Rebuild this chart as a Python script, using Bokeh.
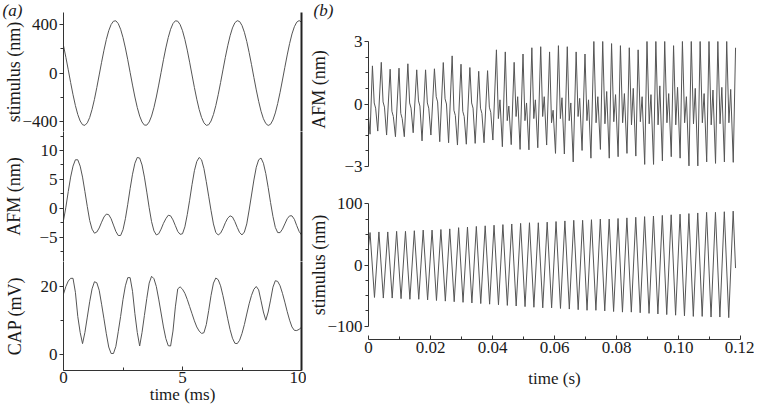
import numpy as np
from bokeh.plotting import figure
from bokeh.models import Range1d, LinearAxis, FixedTicker, Title
from bokeh.layouts import column, row
from bokeh.embed import file_html
from bokeh.resources import INLINE

# ---------------- panel (a): samples every 0.1 ms ----------------
t_a_step = 0.1
stim_a = [227, 130, 27, -79, -180, -270, -344, -398, -429, -434,
          -413, -369, -302, -218, -120, -16, 89, 189, 278, 351,
          402, 430, 433, 410, 363, 294, 208, 110, 5, -100,
          -199, -286, -357, -406, -432, -432, -406, -357, -286, -199,
          -100, 5, 110, 208, 294, 363, 410, 433, 430, 402,
          351, 278, 190, 90, -16, -120, -217, -302, -368, -413,
          -434, -429, -398, -344, -270, -180, -79, 26, 130, 226,
          309, 374, 417, 434, 427, 394, 338, 262, 170, 69,
          -37, -140, -235, -317, -379, -419, -435, -425, -389, -331,
          -253, -160, -58, 47, 150, 244, 324, 384, 422, 435,
          422]
afm_a = [-2.1, 0.2, 2.9, 5.4, 7.3, 8.4, 8.4, 7.3, 5.4, 2.9,
         0.3, -2.1, -3.6, -4.3, -4.1, -3.4, -2.4, -1.5, -1.0, -1.1,
         -1.8, -2.9, -4.0, -4.7, -4.7, -3.7, -1.8, 0.7, 3.4, 5.9,
         7.8, 8.8, 8.7, 7.5, 5.4, 2.8, 0.1, -2.3, -3.9, -4.6,
         -4.4, -3.6, -2.6, -1.8, -1.2, -1.3, -2.0, -3.0, -4.0, -4.5,
         -4.4, -3.2, -1.1, 1.4, 4.1, 6.5, 8.1, 8.8, 8.4, 6.9,
         4.6, 2.1, -0.4, -2.7, -4.2, -4.6, -4.3, -3.5, -2.5, -1.7,
         -1.3, -1.5, -2.3, -3.3, -4.2, -4.6, -4.1, -2.7, -0.3, 2.3,
         4.9, 7.1, 8.4, 8.7, 7.8, 6.0, 3.6, 1.0, -1.4, -3.3,
         -4.2, -4.2, -3.6, -2.7, -1.8, -1.3, -1.3, -1.9, -3.0, -4.0,
         -4.6]
cap_a = [17.8, 20.0, 21.6, 22.4, 22.4, 18.3, 11.2, 6.5, 3.2, 6.5,
         11.0, 15.5, 19.3, 21.4, 21.1, 18.9, 14.8, 10.5, 6.1, 2.2,
         0.3, 0.3, 2.4, 6.7, 11.2, 16.2, 20.2, 22.6, 22.6, 18.6,
         12.0, 6.5, 2.5, 6.5, 11.5, 16.5, 21.0, 23.0, 22.3, 20.0,
         16.3, 12.2, 8.1, 4.7, 2.6, 2.5, 6.9, 14.0, 19.3, 19.9,
         19.2, 18.0, 16.2, 14.1, 12.0, 9.9, 8.1, 6.9, 6.2, 6.4,
         8.8, 12.9, 17.4, 21.0, 22.5, 22.0, 20.2, 17.3, 14.0, 10.5,
         7.3, 4.8, 3.3, 3.2, 4.2, 6.2, 8.8, 11.9, 14.9, 17.4,
         19.2, 20.0, 19.0, 15.8, 12.5, 10.1, 12.5, 16.0, 19.8, 21.7,
         21.5, 20.2, 18.0, 15.4, 12.6, 10.1, 8.1, 7.1, 7.05, 7.4,
         8.0]

# ---------------- panel (b): one entry per cycle ----------------
period_b = 0.002857          # s
stim_b_first_peak = 0.0005   # s
stim_b_start = 31
stim_b_end = -5
stim_b_end_t = 0.1184
stim_b_peaks = [53, 54, 54, 55, 55, 56, 57, 57, 58, 59, 61, 62, 63, 64, 65, 66, 67, 68, 69, 69,
                70, 71, 72, 73, 73, 74, 75, 75, 76, 77, 78, 79, 80, 81, 82, 83, 84, 85, 86, 86,
                87, 88]
stim_b_troughs = [-53, -54, -54, -55, -56, -56, -57, -58, -59, -60, -61, -62, -63, -64, -65, -66,
                  -67, -68, -69, -70, -70, -71, -72, -73, -74, -74, -75, -76, -77, -77, -78, -79,
                  -80, -81, -82, -83, -84, -84, -85, -85, -86]

afm_b_first_peak = 0.00127
afm_b_start = [(0.0, -0.6), (0.0005, -1.45)]
afm_b_peak = [1.83, 2.0, 1.67, 1.72, 1.93, 1.64, 1.64, 1.69, 1.99, 2.31, 1.91, 1.75, 1.57, 1.6,
              2.6, 2.5, 2.0, 2.4, 2.7, 2.75, 2.5, 2.8, 2.75, 2.5, 2.4,
              3.0, 3.0, 2.9, 2.8, 2.7, 2.6, 3.0, 3.0, 3.0, 2.8, 3.0, 3.0, 3.0, 3.0, 3.0, 3.0, 2.7]
afm_b_dip = [0.05, 0.1, -0.35, -0.45, 0.05, 0.15, 0.05, 0.35, 0.25, -0.3, -0.35, 0.05, -0.2, -0.15,
             -0.7, -0.8, -0.6, -0.8, -0.7, -0.6, -0.9, -0.7, -0.8, -0.6, -0.8,
             -0.9, -0.95, -0.85, -0.9, -1.0, -0.85, -0.95, -1.0, -0.9, -1.0, -0.9, -0.95, -0.9,
             -1.0, -0.95, -0.9]
afm_b_bump = [-0.2, -0.15, -0.6, -0.7, -0.2, -0.1, -0.2, 0.1, 0.0, -0.55, -0.6, -0.2, -0.45, -0.4,
              0.2, -0.1, 0.35, 0.05, 0.2, 0.35, -0.3, 0.3, 0.05, 0.27, 0.2,
              0.35, 0.6, 0.45, 0.5, 0.75, 0.35, 0.45, 0.87, 0.5, 0.8, 0.35, 0.75, 0.5, 0.67, 0.8, 0.7]
afm_b_trough = [-1.3, -1.49, -1.57, -1.57, -1.38, -1.77, -1.49, -1.81, -1.86, -1.97,
                -1.93, -1.89, -1.86, -1.73, -2.05, -1.95, -2.18, -2.2, -2.1, -1.97,
                -2.37, -2.4, -2.78, -2.23, -2.6, -2.18, -2.6, -2.53, -2.37, -2.5,
                -2.9, -2.9, -2.73, -2.53, -2.6, -2.97, -2.97, -2.78, -2.85, -2.78, -2.8]
# within-cycle phase (fraction of period) of dip / bump / trough, by stretch of cycles
afm_b_stretch_start = [0, 14, 25]
afm_b_phases = [(0.20, 0.36, 0.60), (0.22, 0.40, 0.67), (0.25, 0.45, 0.74)]

# ---------------- build series ----------------
t_a = np.arange(len(stim_a)) * t_a_step

stim_b_t, stim_b_v = [0.0], [stim_b_start]
for k, pk in enumerate(stim_b_peaks):
    tp = stim_b_first_peak + k * period_b
    stim_b_t.append(tp); stim_b_v.append(pk)
    if k < len(stim_b_troughs):
        stim_b_t.append(tp + 0.5 * period_b); stim_b_v.append(stim_b_troughs[k])
stim_b_t.append(stim_b_end_t); stim_b_v.append(stim_b_end)

afm_b_t = [p[0] for p in afm_b_start]
afm_b_v = [p[1] for p in afm_b_start]
for k, pk in enumerate(afm_b_peak):
    tp = afm_b_first_peak + k * period_b
    afm_b_t.append(tp); afm_b_v.append(pk)
    if k < len(afm_b_trough):
        s = sum(1 for b in afm_b_stretch_start if k >= b) - 1
        fa, fb, fc = afm_b_phases[s]
        afm_b_t += [tp + fa * period_b, tp + fb * period_b, tp + fc * period_b]
        afm_b_v += [afm_b_dip[k], afm_b_bump[k], afm_b_trough[k]]

# ---------------- styling helpers ----------------
FONT = "Liberation Serif"
AXC = "#333333"
TXT = "#1a1a1a"
LINE = "#555555"
FS = "17px"      # tick labels / x-axis labels
FSY = "18px"     # y-axis labels


def mkfig(xr, yr, fw, fh, bl, br, bt, bb, xaxis):
    p = figure(x_range=xr, y_range=yr, frame_width=fw, frame_height=fh,
               min_border_left=bl, min_border_right=br, min_border_top=bt, min_border_bottom=bb,
               output_backend="svg", toolbar_location=None,
               x_axis_location="below" if xaxis else None)
    p.outline_line_color = None
    p.grid.visible = False
    p.background_fill_color = "white"
    p.border_fill_color = "white"
    return p


def style_axis(ax, ticks, minor, label, label_standoff, overrides, inward=False, bounds=None,
               label_size=FS, tick_standoff=2):
    ax.ticker = FixedTicker(ticks=ticks, minor_ticks=minor)
    ax.axis_label = label
    ax.axis_label_text_font = FONT
    ax.axis_label_text_font_size = label_size
    ax.axis_label_text_font_style = "normal"
    ax.axis_label_text_color = TXT
    ax.axis_label_standoff = label_standoff
    ax.major_label_text_font = FONT
    ax.major_label_text_font_size = FS
    ax.major_label_text_color = TXT
    ax.major_label_standoff = tick_standoff
    ax.major_label_overrides = overrides
    ax.axis_line_color = AXC
    ax.major_tick_line_color = AXC
    ax.minor_tick_line_color = AXC
    if inward:
        ax.major_tick_in, ax.major_tick_out = 4, 0
        ax.minor_tick_in, ax.minor_tick_out = 3, 0
    else:
        ax.major_tick_in, ax.major_tick_out = 0, 4
        ax.minor_tick_in, ax.minor_tick_out = 0, 3
    if bounds is not None:
        ax.bounds = bounds


def right_border(p):
    ax = LinearAxis(ticker=FixedTicker(ticks=[]), major_label_text_font_size="0px",
                    axis_line_color="#222222", axis_line_width=2,
                    major_tick_line_color=None, minor_tick_line_color=None)
    p.add_layout(ax, "right")


def panel_label(p, text, offset):
    p.add_layout(Title(text=text, align="left", offset=offset, standoff=-14,
                       vertical_align="bottom", text_font=FONT, text_font_style="italic",
                       text_font_size=FS, text_color=TXT), "above")


# ---------------- panel (a) ----------------
xa = Range1d(0, 10)
FWA = 238
BLA = 63
pa1 = mkfig(xa, Range1d(-485, 502), FWA, 119, BLA, 5, 12, 0, False)
pa1.line(t_a, stim_a, line_color=LINE, line_width=1)
style_axis(pa1.yaxis[0], [-400, 0, 400], [-200, 200], "stimulus (nm)", -5,
           {-400: "\u2212400", 0: "0", 400: "400"}, label_size=FSY)
right_border(pa1)
panel_label(pa1, "(a)", -61)

pa2 = mkfig(xa, Range1d(-9.2, 13.29), FWA, 130, BLA, 5, 0, 0, False)
pa2.line(t_a, afm_a, line_color=LINE, line_width=1)
style_axis(pa2.yaxis[0], [-5, 0, 5, 10], [-7.5, -2.5, 2.5, 7.5, 12.5], "AFM (nm)", 12,
           {-5: "\u22125", 0: "0", 5: "5", 10: "10"}, label_size=FSY)
right_border(pa2)

pa3 = mkfig(xa, Range1d(-4.7, 27.35), FWA, 109, BLA, 5, 0, 39, True)
pa3.line(t_a, cap_a, line_color=LINE, line_width=1)
style_axis(pa3.yaxis[0], [0, 20], [10], "CAP (mV)", 13, {0: "0", 20: "20"}, label_size=FSY)
style_axis(pa3.xaxis[0], [0, 5, 10], [2.5, 7.5], "time (ms)", -1,
           {0: "0", 5: "5", 10: "10"}, inward=True, tick_standoff=1)
right_border(pa3)

# ---------------- panel (b) ----------------
xb = Range1d(0, 0.12)
FWB = 372
BLB = 62
pb1 = mkfig(xb, Range1d(-3, 4.392), FWB, 154, BLB, 14, 12, 10, False)
pb1.line(afm_b_t, afm_b_v, line_color=LINE, line_width=1)
style_axis(pb1.yaxis[0], [-3, 0, 3], [-2.25, -1.5, -0.75, 0.75, 1.5, 2.25], "AFM (nm)", 12,
           {-3: "\u22123", 0: "0", 3: "3"}, label_size=FSY, bounds=(-3, 3))
panel_label(pb1, "(b)", -55)

pb2 = mkfig(xb, Range1d(-121.7, 121.7), FWB, 149, BLB, 14, 14, 70, True)
pb2.line(stim_b_t, stim_b_v, line_color=LINE, line_width=1)
style_axis(pb2.yaxis[0], [-100, 0, 100], [-75, -50, -25, 25, 50, 75], "stimulus (nm)", -5,
           {-100: "\u2212100", 0: "0", 100: "100"}, bounds=(-100, 100), label_size=FSY)
xt = [0, 0.02, 0.04, 0.06, 0.08, 0.1, 0.12]
style_axis(pb2.xaxis[0], xt, [0.01, 0.03, 0.05, 0.07, 0.09, 0.11], "time (s)", 13,
           {0: "0", 0.02: "0.02", 0.04: "0.04", 0.06: "0.06", 0.08: "0.08", 0.1: "0.10",
            0.12: "0.12"}, inward=True, bounds=(0, 0.12))

layout = row(column(pa1, pa2, pa3), column(pb1, pb2))
open("out.html", "w").write(file_html(layout, INLINE))
